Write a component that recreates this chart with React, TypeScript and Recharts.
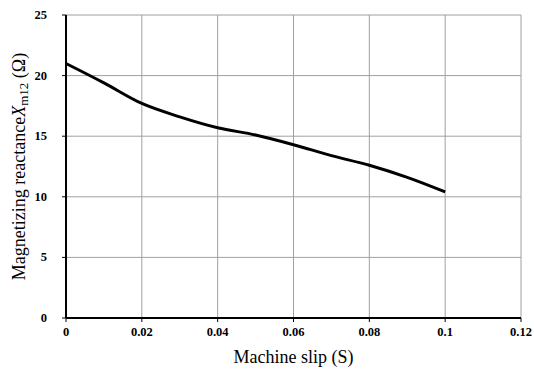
import { LineChart, Line, XAxis, YAxis, CartesianGrid } from "recharts";

const slip = [0, 0.01, 0.02, 0.03, 0.04, 0.05, 0.06, 0.07, 0.08, 0.09, 0.1];
const reactance = [21.0, 19.4, 17.7, 16.6, 15.7, 15.1, 14.3, 13.4, 12.6, 11.6, 10.4];
const xTicks = [0, 0.02, 0.04, 0.06, 0.08, 0.1, 0.12];
const yTicks = [0, 5, 10, 15, 20, 25];

const data = slip.map((s, i) => ({ s, x: reactance[i] }));

const SERIF = "'Liberation Serif', 'Times New Roman', serif";

function XTick(props: any) {
  const { x, y, payload } = props;
  return (
    <text x={x} y={y + 9} textAnchor="middle" fontFamily={SERIF} fontSize={12.5} fontWeight="bold" fill="#000">
      {String(payload.value)}
    </text>
  );
}

function YTick(props: any) {
  const { x, y, payload } = props;
  return (
    <text x={x} y={y + 4} textAnchor="end" fontFamily={SERIF} fontSize={12.5} fontWeight="bold" fill="#000">
      {String(payload.value)}
    </text>
  );
}

function YLabel(props: any) {
  const vb = props.viewBox || { x: 0, y: 15, width: 66, height: 303 };
  const cx = vb.x + 19;
  const cy = vb.y + vb.height / 2;
  return (
    <text
      x={cx}
      y={cy}
      transform={`rotate(-90 ${cx} ${cy})`}
      textAnchor="middle"
      dominantBaseline="central"
      fontFamily={SERIF}
      fontSize={18}
      fill="#000"
    >
      Magnetizing reactance
      <tspan fontStyle="italic">X</tspan>
      <tspan fontSize={13} dy={4}>m12</tspan>
      <tspan dy={-4}> (Ω)</tspan>
    </text>
  );
}

export default function App() {
  return (
    <div style={{ position: "absolute", left: 0, top: 0, background: "#fff" }}>
      <LineChart
        width={534}
        height={375}
        data={data}
        margin={{ top: 15, right: 13, left: 0, bottom: 0 }}
      >
        <CartesianGrid stroke="#a0a0a0" strokeWidth={1} />
        <XAxis
          dataKey="s"
          type="number"
          domain={[0, 0.12]}
          ticks={xTicks}
          height={57}
          axisLine={{ stroke: "#000", strokeWidth: 2 }}
          tickLine={{ stroke: "#000", strokeWidth: 1 }}
          tickSize={4}
          tickMargin={5}
          tick={<XTick />}
          interval={0}
          label={{
            value: "Machine slip (S)",
            position: "insideBottom",
            offset: 12,
            style: { fontFamily: SERIF, fontSize: 18, fill: "#000" },
          }}
        />
        <YAxis
          type="number"
          domain={[0, 25]}
          ticks={yTicks}
          width={66}
          axisLine={{ stroke: "#000", strokeWidth: 2 }}
          tickLine={{ stroke: "#000", strokeWidth: 1 }}
          tickSize={4}
          tickMargin={15}
          tick={<YTick />}
          interval={0}
          label={{ content: YLabel }}
        />
        <Line
          dataKey="x"
          type="monotone"
          stroke="#000"
          strokeWidth={3}
          dot={false}
          isAnimationActive={false}
        />
      </LineChart>
    </div>
  );
}
